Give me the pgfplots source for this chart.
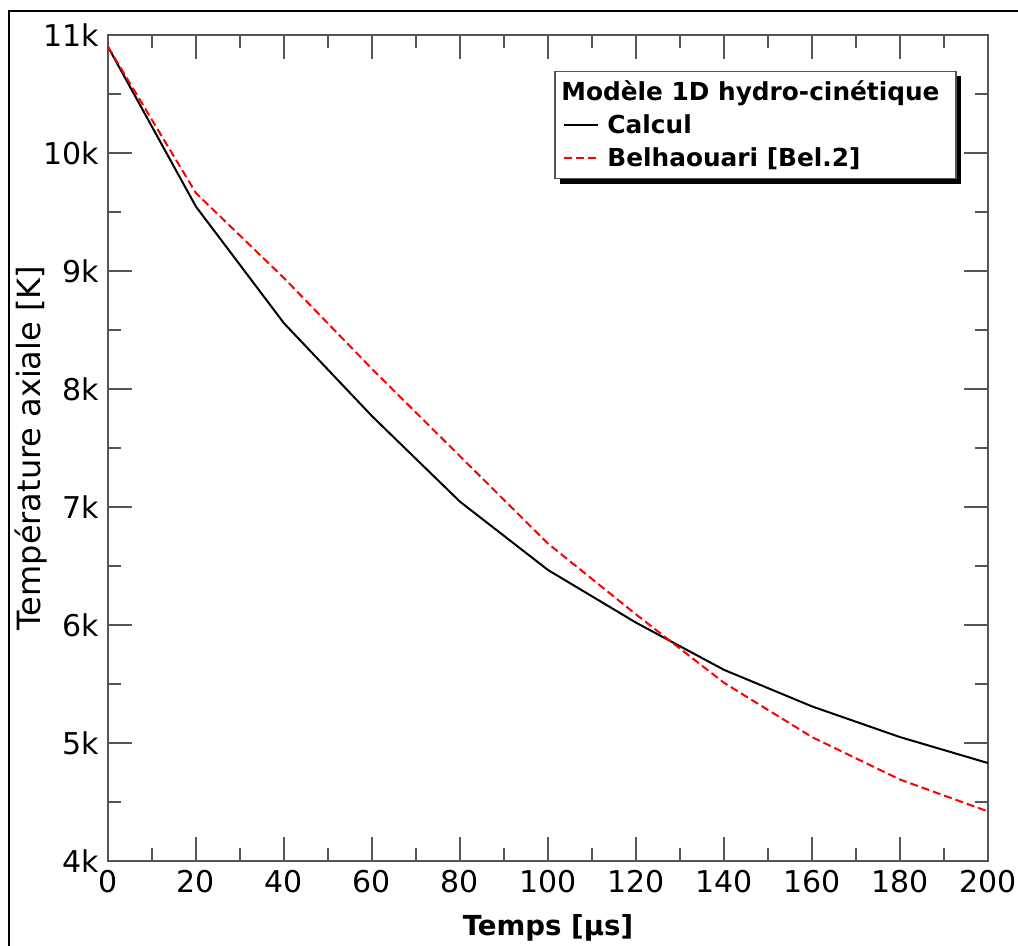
\documentclass[border=0pt]{standalone}
\usepackage{pgfplots}
\pgfplotsset{compat=1.18}
\usepackage{fontspec}
\setmainfont{DejaVu Sans}
\usetikzlibrary{backgrounds,calc}
\definecolor{axgray}{HTML}{555555}
\pgfplotstableread{
x y
0 10900
20 9545
40 8557
60 7770
80 7045
100 6466
120 6020
140 5620
160 5310
180 5050
200 4830
}\calcul
\pgfplotstableread{
x y
0 10900
20 9660
40 8940
60 8170
80 7430
100 6690
120 6090
140 5510
160 5050
180 4690
200 4420
}\belha
\begin{document}
\begin{tikzpicture}
\useasboundingbox (0,0) rectangle (509pt,473pt);
\draw[line width=1pt] (4.5pt,-5pt) -- (4.5pt,467.5pt) -- (520pt,467.5pt);
\begin{axis}[
  at={(54pt,42.5pt)}, anchor=south west,
  scale only axis, width=440pt, height=413pt,
  xmin=0, xmax=200, ymin=4000, ymax=11000,
  xtick={0,20,...,200}, minor x tick num=1,
  ytick={4000,5000,...,11000}, minor y tick num=1,
  yticklabels={4k,5k,6k,7k,8k,9k,10k,11k},
  tick align=inside,
  major tick length=12pt, minor tick length=6.5pt,
  axis line style={axgray, line width=0.75pt},
  every tick/.style={axgray, line width=0.75pt},
  /pgf/number format/assume math mode=true,
  scaled y ticks=false,
  ticklabel style={font=\fontsize{15}{18}\selectfont},
  xticklabel style={yshift=-1pt},
  yticklabel style={xshift=-1pt},
  xlabel={\textbf{Temps [µs]}},
  ylabel={Température axiale [K]},
  xlabel style={font=\fontsize{13.8}{16}\selectfont, yshift=-4pt},
  ylabel style={font=\fontsize{16}{19}\selectfont, yshift=-9pt},
  legend cell align=left,
  legend style={name=leg, at={(0.508,0.956)}, anchor=north west,
    draw=none, fill=none,
    font=\fontsize{12.4}{15}\selectfont\bfseries,
    inner xsep=4pt, inner ysep=2.5pt, row sep=1.5pt,
    nodes={inner xsep=4pt}},
  legend image code/.code={\draw[#1] (0cm,0cm) -- (17pt,0cm);},
]
\addlegendimage{empty legend}
\addlegendentry{\hspace{-23pt}Modèle 1D hydro-cinétique}
\addplot[black, line width=1pt] table[x=x,y=y] {\calcul};
\addlegendentry{Calcul}
\addplot[red, line width=1pt, dash pattern=on 4pt off 2pt] table[x=x,y=y] {\belha};
\addlegendentry{Belhaouari [Bel.2]}
\end{axis}
\begin{scope}[on background layer]
\fill[black] ($(leg.south west)+(2.5pt,-2.5pt)$) rectangle ($(leg.north east)+(2.5pt,-2.5pt)$);
\filldraw[fill=white, draw=axgray, line width=0.75pt] (leg.south west) rectangle (leg.north east);
\end{scope}
\end{tikzpicture}
\end{document}
